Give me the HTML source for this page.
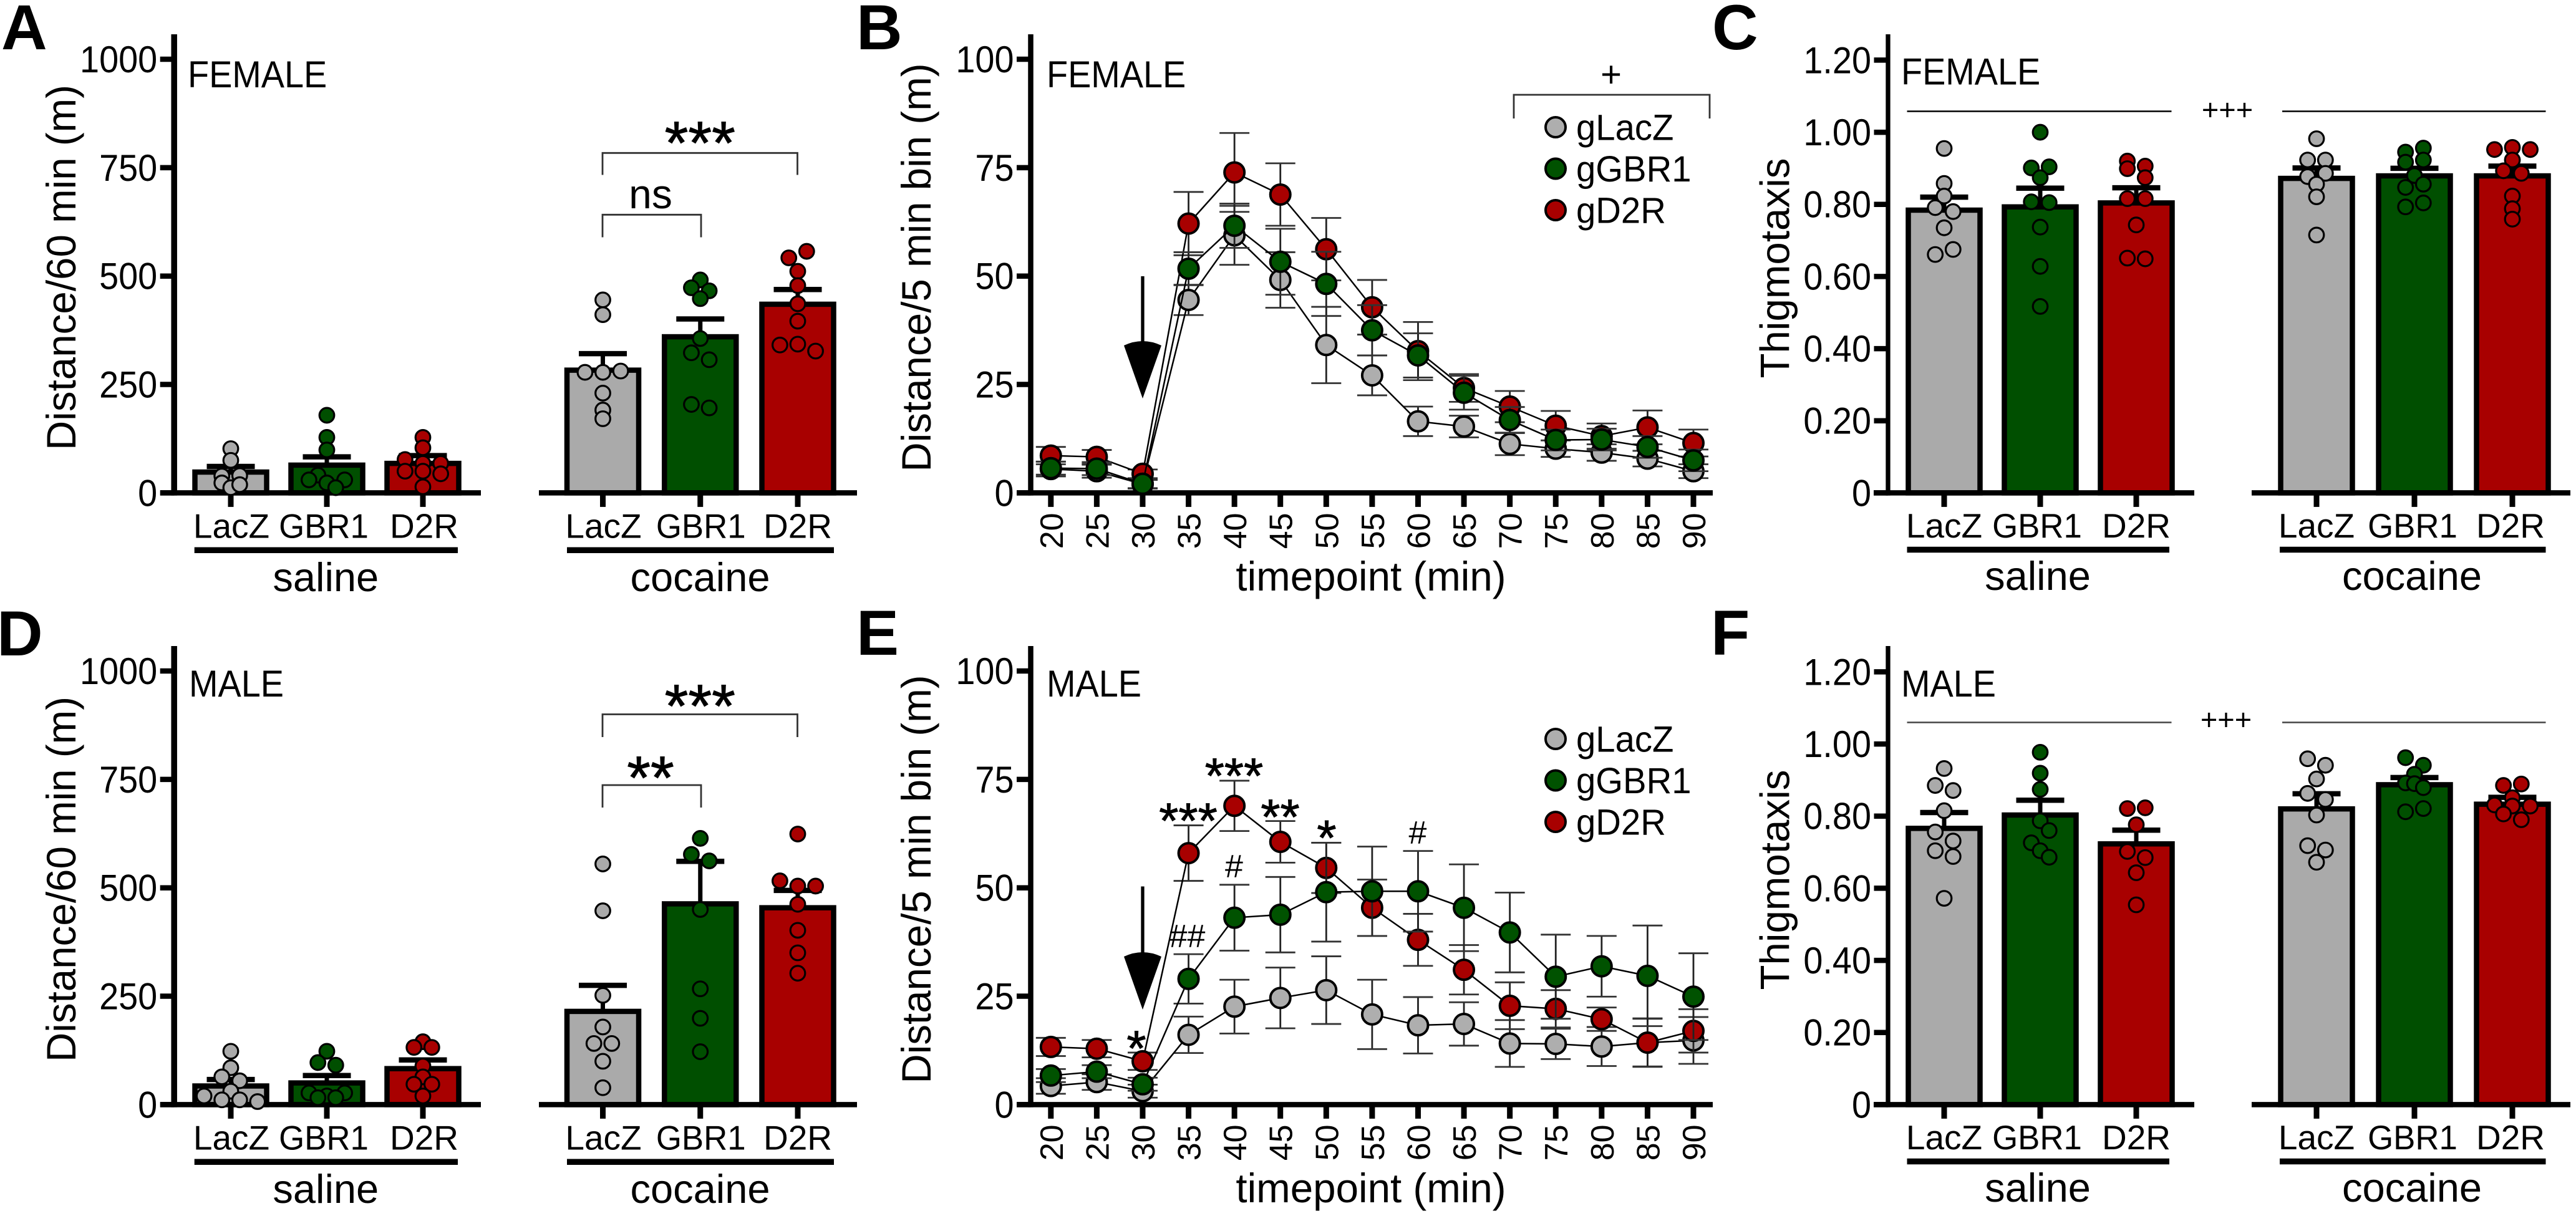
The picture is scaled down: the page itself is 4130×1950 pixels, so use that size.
<!DOCTYPE html>
<html lang="en">
<head>
<meta charset="utf-8">
<title>Locomotion and thigmotaxis by sex, treatment and knockdown group</title>
<style>
html,body{margin:0;padding:0;background:#fff;}
svg{display:block;}
text{font-family:"Liberation Sans",Arial,sans-serif;fill:#000;}
</style>
</head>
<body>
<svg id="figure" xmlns="http://www.w3.org/2000/svg" width="4130" height="1950" viewBox="0 0 4130 1950">
  <rect width="4130" height="1950" fill="#fff"/>
  <g id="panel-a"></g>
  <g id="panel-b"></g>
  <g id="panel-c"></g>
  <g id="panel-d"></g>
  <g id="panel-e"></g>
  <g id="panel-f"></g>
</svg>
<script>
// ---------- shared categories and ticks ----------
const genotypeLabels = ['LacZ', 'GBR1', 'D2R'];
const treatmentLabels = ['saline', 'cocaine'];
const seriesLabels = ['gLacZ', 'gGBR1', 'gD2R'];
const distanceTicks = [0, 250, 500, 750, 1000];
const binTicks = [0, 25, 50, 75, 100];
const thigmoTicks = [0, 0.2, 0.4, 0.6, 0.8, 1.0, 1.2];
const thigmoTickLabels = ['0', '0.20', '0.40', '0.60', '0.80', '1.00', '1.20'];
const timepoints = [20, 25, 30, 35, 40, 45, 50, 55, 60, 65, 70, 75, 80, 85, 90];

// ---------- panel A ----------
const aMeans = [48, 64, 68, 283, 360, 435];
const aErrTops = [61, 83, 86, 321, 401, 469];
const aPoints = [
  [102, 75, 39, 40, 23, 12, 19],
  [179, 128, 99, 41, 30, 30, 23, 12],
  [128, 104, 77, 68, 68, 50, 50, 44, 14],
  [445, 411, 278, 278, 281, 230, 191, 171],
  [491, 473, 466, 448, 356, 323, 307, 204, 196],
  [557, 542, 511, 478, 436, 396, 341, 343, 327]
];
const aJitter = [
  [0, 0, -1, 1, -1, 0, 1],
  [0, 0, 0, -1, -2, 2, 0, 1],
  [0, 0, -2, 2, 0, -2, 0, 2, 0],
  [0, 0, -2, 0, 2, 0, 0, 0],
  [0, -1, 1, 0, 0, -1, 1, -1, 1],
  [1, -1, 0, 0, 0, 0, -2, 0, 2]
];

// ---------- panel B ----------
const bLacZ = [5.5, 5, 2, 44.5, 59.4, 49.1, 34.1, 27.1, 16.5, 15.3, 11.3, 10.2, 9.3, 7.9, 5];
const bGBR1 = [5.7, 5.6, 2.1, 51.7, 61.6, 53.3, 48.2, 37.5, 31.7, 23.1, 16.8, 12.2, 12.3, 10.6, 7.5];
const bD2R = [8.6, 8.3, 4.4, 62.1, 73.9, 68.8, 56.2, 42.8, 32.7, 24.2, 19.9, 15.5, 13.1, 15.1, 11.5];
const bLacZSem = [1.7, 1.5, 1, 3.5, 6.8, 6.4, 8.8, 4.6, 3.4, 2.5, 2.6, 1.9, 1.9, 1.8, 1.6];
const bGBR1Sem = [1.5, 1.5, 1, 3.8, 5.1, 7.6, 7.4, 5.8, 5.1, 3.9, 3, 2.4, 2.5, 2.5, 2.5];
const bD2RSem = [2, 1.6, 1, 7.3, 9.1, 7.2, 7.2, 6.3, 6.7, 3.2, 3.6, 3.4, 2.9, 3.9, 3.1];

// ---------- panel C ----------
const cMeans = [0.784, 0.793, 0.804, 0.872, 0.879, 0.879];
const cErrTops = [0.82, 0.845, 0.846, 0.901, 0.9, 0.906];
const cPoints = [
  [0.955, 0.858, 0.823, 0.791, 0.78, 0.735, 0.675, 0.661],
  [1.0, 0.901, 0.904, 0.874, 0.807, 0.805, 0.737, 0.628, 0.517],
  [0.92, 0.899, 0.906, 0.874, 0.816, 0.816, 0.743, 0.651, 0.649],
  [0.982, 0.923, 0.923, 0.877, 0.886, 0.856, 0.821, 0.715],
  [0.956, 0.945, 0.917, 0.923, 0.88, 0.847, 0.856, 0.804, 0.793],
  [0.952, 0.958, 0.952, 0.923, 0.893, 0.886, 0.823, 0.788, 0.759]
];
const cJitter = [
  [0, 0, 0, -1, 1, 0, 1, -1],
  [0, -1, 1, 0, -1, 1, 0, 0, 0],
  [-1, -1, 1, 1, -1, 1, 0, -1, 1],
  [0, -1, 1, -1, 1, 0, 0, 0],
  [1, -1, -1, 1, 0, -1, 1, 1, -1],
  [-2, 0, 2, 0, -1, 1, 0, 0, 0]
];

// ---------- panel D ----------
const dMeans = [43, 50, 83, 215, 463, 454];
const dErrTops = [58, 67, 103, 275, 561, 494];
const dPoints = [
  [123, 85, 64, 55, 31, 20, 11, 11, 7],
  [123, 97, 91, 27, 27, 20, 16, 16],
  [145, 132, 132, 89, 64, 47, 47, 20],
  [555, 447, 252, 179, 141, 141, 100, 39],
  [614, 577, 562, 450, 267, 199, 122],
  [624, 516, 504, 504, 462, 402, 350, 303]
];
const dJitter = [
  [0, 0, -1, 1, 0, -3, -1, 1, 3],
  [0, -1, 1, -2, 2, 0, -1, 1],
  [0, -1, 1, 0, 0, -1, 1, 0],
  [0, 0, 0, 0, -1, 1, 0, 0],
  [0, -1, 1, 0, 0, 0, 0],
  [0, -2, 0, 2, 0, 0, 0, 0]
];

// ---------- panel E ----------
const eLacZ = [4.3, 5.2, 3.1, 16.1, 22.6, 24.6, 26.4, 20.8, 18.3, 18.6, 14.1, 14, 13.4, 14.3, 14.8];
const eGBR1 = [6.7, 7.6, 4.7, 29, 43.1, 43.8, 49, 49.2, 49.2, 45.4, 39.7, 29.5, 31.9, 29.7, 24.9];
const eD2R = [13.3, 12.9, 10, 58, 68.9, 60.6, 54.6, 45.4, 38, 31.1, 22.8, 22.1, 19.7, 14.3, 17];
const eLacZSem = [1.8, 1.8, 1.5, 4.2, 6.2, 7, 7.8, 8, 6.5, 5, 5.4, 3.5, 4.5, 5.5, 5.4];
const eGBR1Sem = [1.5, 1.5, 1.5, 5.7, 7.6, 8.7, 11.4, 10.3, 9.3, 10, 9.2, 9.7, 7, 11.6, 10];
const eD2RSem = [2.1, 2, 2, 6.4, 5.8, 4.8, 5.8, 6.5, 6, 5.7, 5.4, 4.3, 2.7, 5.6, 5];

// ---------- panel F ----------
const fMeans = [0.766, 0.803, 0.723, 0.82, 0.887, 0.833];
const fErrTops = [0.81, 0.844, 0.761, 0.862, 0.907, 0.852];
const fPoints = [
  [0.932, 0.885, 0.871, 0.815, 0.756, 0.731, 0.704, 0.688, 0.572],
  [0.977, 0.919, 0.874, 0.787, 0.76, 0.726, 0.704, 0.686],
  [0.821, 0.823, 0.776, 0.702, 0.685, 0.643, 0.554],
  [0.959, 0.941, 0.903, 0.863, 0.846, 0.803, 0.718, 0.706, 0.672],
  [0.962, 0.941, 0.916, 0.892, 0.89, 0.879, 0.821, 0.812],
  [0.885, 0.889, 0.851, 0.831, 0.828, 0.828, 0.806, 0.79]
];
const fJitter = [
  [0, -1, 1, 0, -1, 1, -1, 1, 0],
  [0, 0, 0, 0, 1, -1, 0, 1],
  [-1, 1, 0, -1, 1, 0, 0],
  [-1, 1, 0, -1, 1, 0, -1, 1, 0],
  [-1, 1, 0, -1, 0, 1, 1, -1],
  [-1, 1, 0, -2, 0, 2, -1, 1]
];

// ---------- drawing helpers ----------
const NS = 'http://www.w3.org/2000/svg';
const COLORS = ['#aaaaaa', '#004f00', '#a80000'];
const SERIES_COLORS = ['#aeaeae', '#005200', '#a80000'];

function addEl(parent, tag, attrs) {
  const el = document.createElementNS(NS, tag);
  for (const k in attrs) el.setAttribute(k, attrs[k]);
  parent.appendChild(el);
  return el;
}
function addLine(parent, x1, y1, x2, y2, width, color) {
  return addEl(parent, 'line', { x1: x1, y1: y1, x2: x2, y2: y2, stroke: color || '#000', 'stroke-width': width });
}
function addText(parent, str, x, y, size, anchor, rotate, weight) {
  const attrs = { x: x, y: y, 'font-size': size, 'text-anchor': anchor || 'middle' };
  if (rotate) attrs.transform = 'rotate(' + rotate + ' ' + x + ' ' + y + ')';
  if (weight) attrs['font-weight'] = weight;
  const el = addEl(parent, 'text', attrs);
  el.textContent = str;
  return el;
}
function condense(el, factor) {
  el.setAttribute('textLength', el.getComputedTextLength() * factor);
  el.setAttribute('lengthAdjust', 'spacingAndGlyphs');
}
function linearScale(domainMax, y0, yMax) {
  return function (v) { return y0 - (v / domainMax) * (y0 - yMax); };
}

function drawYAxis(g, cfg, y, ticks, labels, title, titleSize) {
  const axis = addLine(g, cfg.axisX, cfg.axisTop, cfg.axisX, cfg.y0 + cfg.axisThick / 2, cfg.axisWidth);
  
  
  ticks.forEach(function (t, i) {
    const mark = addLine(g, cfg.axisX - 22.5, y(t), cfg.axisX, y(t), 8.5);
    
    
    const lab = addText(g, labels[i], cfg.axisX - 27, y(t) + 21, 60, 'end');
    condense(lab, 0.93);
    
    
  });
  const yt = addText(g, title, cfg.titleX, cfg.titleY, titleSize || 65.5, 'middle', -90);
  
  
}

function drawPanelLetter(g, letter, x, y) {
  const t = addText(g, letter, x, y, 102, 'start', 0, 'bold');
  
  
}

function drawSexLabel(g, str, x, y) {
  const t = addText(g, str, x, y, 60, 'start');
  condense(t, 0.93);
  
  
}

function drawBracket(g, x1, x2, yTop, yBottom) {
  const p = addEl(g, 'path', {
    d: 'M' + x1 + ' ' + yBottom + 'V' + yTop + 'H' + x2 + 'V' + yBottom,
    fill: 'none', stroke: '#333', 'stroke-width': 2.8
  });
  
  
}

function drawStars(g, str, cx, cy, size) {
  const t = addText(g, str, cx, cy + 0.58 * size, size, 'middle');
  t.setAttribute('stroke', '#000');
  t.setAttribute('stroke-width', '1');
  
  
}

function drawBarPanel(g, cfg, ticks, labels, title, means, errTops, points, jitter) {
  const y = linearScale(cfg.domainMax, cfg.y0, cfg.yMax);
  drawYAxis(g, cfg, y, ticks, labels, title);
  const centers = [0, 1, 2].map(function (i) { return cfg.salFirst + i * (cfg.salLast - cfg.salFirst) / 2; })
    .concat([0, 1, 2].map(function (i) { return cfg.cocFirst + i * (cfg.cocLast - cfg.cocFirst) / 2; }));

  means.forEach(function (m, i) {
    const cx = centers[i];
    const top = y(m);
    const bar = addEl(g, 'rect', {
      x: cx - cfg.barW / 2, y: top, width: cfg.barW, height: cfg.y0 - top,
      fill: COLORS[i % 3], stroke: '#000', 'stroke-width': 8.5
    });
    
    

    const stem = addLine(g, cx, top, cx, y(errTops[i]), 7);
    
    
    const cap = addLine(g, cx - 38.5, y(errTops[i]), cx + 38.5, y(errTops[i]), 8.5);
    
    

    const tk = addLine(g, cx, cfg.y0, cx, cfg.y0 + 22.5, 9);
    
    

    const off = cfg.labelOffset ? cfg.labelOffset[i] : 0;
    const lab = addText(g, genotypeLabels[i % 3], cx + off, cfg.labelY, 55);
    if (i % 3 === 1) condense(lab, 0.96);
    
    
  });

  cfg.segments.forEach(function (seg) {
    const xa = addLine(g, seg[0], cfg.y0, seg[1], cfg.y0, cfg.axisThick);
    
    
  });

  means.forEach(function (m, i) {
    points[i].forEach(function (v, j) {
      const dot = addEl(g, 'circle', {
        cx: centers[i] + jitter[i][j] * 14.3, cy: y(v), r: 11.8,
        fill: COLORS[i % 3], stroke: '#000', 'stroke-width': 3.2
      });
      
      
    });
  });

  treatmentLabels.forEach(function (name, k) {
    const u = cfg.underlines[k];
    const ul = addLine(g, u[0], cfg.underlineY, u[1], cfg.underlineY, 9.5);
    
    
    const tl = addText(g, name, cfg.treatX[k], cfg.treatY, 65);
    
    
  });
}

function drawSeries(g, x, y, values, sem, colorIndex) {
  values.forEach(function (v, i) {
    const cx = x(timepoints[i]);
    const stem = addLine(g, cx, y(v - sem[i]), cx, y(v + sem[i]), 2.8, '#222');
    
    
    const capU = addLine(g, cx - 24, y(v + sem[i]), cx + 24, y(v + sem[i]), 2.8, '#333');
    
    
    const capL = addLine(g, cx - 24, y(v - sem[i]), cx + 24, y(v - sem[i]), 2.8, '#333');
    
    
  });
  const path = addEl(g, 'polyline', {
    points: values.map(function (v, i) { return x(timepoints[i]) + ',' + y(v); }).join(' '),
    fill: 'none', stroke: '#000', 'stroke-width': 2.5
  });
  
  
  values.forEach(function (v, i) {
    const m = addEl(g, 'circle', {
      cx: x(timepoints[i]), cy: y(v), r: 16,
      fill: SERIES_COLORS[colorIndex], stroke: '#000', 'stroke-width': 4
    });
    
    
  });
}

function drawLinePanel(g, cfg, lacz, gbr, d2r, laczSem, gbrSem, d2rSem) {
  const y = linearScale(100, cfg.y0, cfg.yMax);
  const x = function (t) { return cfg.x20 + (t - 20) * (cfg.x90 - cfg.x20) / 70; };
  drawYAxis(g, cfg, y, binTicks, binTicks.map(String), 'Distance/5 min bin (m)');

  timepoints.forEach(function (t) {
    const tk = addLine(g, x(t), cfg.y0, x(t), cfg.y0 + 22.5, 9);
    
    
    const lab = addText(g, String(t), x(t) + 19, cfg.y0 + 32, 52, 'end', -90);
    
    
  });
  const xa = addLine(g, cfg.axisX - 22, cfg.y0, cfg.xEnd, cfg.y0, cfg.axisThick);
  
  
  const xt = addText(g, 'timepoint (min)', 2198, cfg.xTitleY, 65.5);
  
  

  drawSeries(g, x, y, lacz, laczSem, 0);
  drawSeries(g, x, y, d2r, d2rSem, 2);
  drawSeries(g, x, y, gbr, gbrSem, 1);

  const shaft = addLine(g, x(30), cfg.arrowTop, x(30), cfg.arrowHead + 2, 5.3);
  
  
  const head = addEl(g, 'path', {
    d: 'M' + (x(30) - 30) + ' ' + (cfg.arrowHead + 4) + 'Q' + x(30) + ' ' + (cfg.arrowHead - 10) + ' ' + (x(30) + 30) + ' ' + (cfg.arrowHead + 4) + 'L' + x(30) + ' ' + cfg.arrowTip + 'Z',
    fill: '#000'
  });
  
  

  seriesLabels.forEach(function (name, i) {
    const my = cfg.legendY + i * 66.5;
    const lm = addEl(g, 'circle', { cx: 2494, cy: my, r: 16, fill: SERIES_COLORS[i], stroke: '#000', 'stroke-width': 4 });
    
    
    const lt = addText(g, name, 2527, my + 20.5, 58, 'start');
    condense(lt, 0.97);
    
    
  });
}

// ---------- layouts ----------
const DY = 981;
function distanceLayout(dy) {
  return {
    domainMax: 1000, y0: 790.4 + dy, yMax: 95 + dy, axisX: 279.2, axisTop: 55 + dy, axisWidth: 9.5, axisThick: 8.5,
    titleX: 121, titleY: 429 + dy, salFirst: 370, salLast: 678, cocFirst: 966.5, cocLast: 1279,
    barW: 115, segments: [[257, 771], [864, 1374]], labelY: 862.5 + dy,
    labelOffset: [1, -5, 2, 1, 1, 0],
    underlineY: 882.3 + dy, underlines: [[311.7, 734], [909, 1337]], treatX: [522.3, 1122.5], treatY: 948 + dy
  };
}
function thigmoLayout(dy) {
  return {
    domainMax: 1.2, y0: 790.4 + dy, yMax: 96.4 + dy, axisX: 3027, axisTop: 55 + dy, axisWidth: 7.3, axisThick: 8.5,
    titleX: 2868.5, titleY: 430 + dy, salFirst: 3117, salLast: 3425, cocFirst: 3714, cocLast: 4028,
    barW: 115, segments: [[3004, 3518], [3610, 4121]], labelY: 862 + dy,
    labelOffset: [0, -5, 0, 0, -3, -3],
    underlineY: 881.5 + dy, underlines: [[3057.5, 3478], [3655, 4081.5]], treatX: [3267, 3867], treatY: 946 + dy
  };
}
function timeLayout(dy) {
  return {
    y0: 790.4 + dy, yMax: 95 + dy, axisX: 1652.5, axisTop: 55 + dy, axisWidth: 8.5, axisThick: 8.5,
    titleX: 1492, titleY: 429 + dy, x20: 1684.8, x90: 2715, xEnd: 2746, xTitleY: 947 + dy
  };
}

// ---------- panel A ----------
const gA = document.getElementById('panel-a');
drawPanelLetter(gA, 'A', 2, 79);
drawBarPanel(gA, distanceLayout(0), distanceTicks, distanceTicks.map(String), 'Distance/60 min (m)', aMeans, aErrTops, aPoints, aJitter);
drawSexLabel(gA, 'FEMALE', 301, 140);
drawBracket(gA, 966, 1278.5, 245.3, 280.5);
drawBracket(gA, 966, 1124, 344.3, 380.5);
drawStars(gA, '***', 1122.3, 206, 97);
const nsA = addText(gA, 'ns', 1043, 334, 66);



// ---------- panel B ----------
const gB = document.getElementById('panel-b');
drawPanelLetter(gB, 'B', 1373, 79);
const cfgB = Object.assign(timeLayout(0), { arrowTop: 443, arrowHead: 550, arrowTip: 639, legendY: 204 });
drawLinePanel(gB, cfgB, bLacZ, bGBR1, bD2R, bLacZSem, bGBR1Sem, bD2RSem);
drawSexLabel(gB, 'FEMALE', 1678, 140);
drawBracket(gB, 2427, 2741, 152, 190);
const plusB = addText(gB, '+', 2583, 139, 58);



// ---------- panel C ----------
const gC = document.getElementById('panel-c');
drawPanelLetter(gC, 'C', 2745, 79);
drawBarPanel(gC, thigmoLayout(0), thigmoTicks, thigmoTickLabels, 'Thigmotaxis', cMeans, cErrTops, cPoints, cJitter);
drawSexLabel(gC, 'FEMALE', 3048, 135.5);
const lineC1 = addLine(gC, 3057.5, 178.5, 3481.5, 178.5, 2.6);


const lineC2 = addLine(gC, 3659, 178.5, 4081.5, 178.5, 2.6);


const plusC = addText(gC, '+++', 3571, 192, 47);



// ---------- panel D ----------
const gD = document.getElementById('panel-d');
drawPanelLetter(gD, 'D', -5, 1051);
drawBarPanel(gD, distanceLayout(DY), distanceTicks, distanceTicks.map(String), 'Distance/60 min (m)', dMeans, dErrTops, dPoints, dJitter);
drawSexLabel(gD, 'MALE', 303, 1117);
drawBracket(gD, 966, 1278.5, 1145.5, 1182);
drawBracket(gD, 966, 1124, 1259, 1295);
drawStars(gD, '***', 1122.3, 1109, 97);
drawStars(gD, '**', 1043, 1224, 97);

// ---------- panel E ----------
const gE = document.getElementById('panel-e');
drawPanelLetter(gE, 'E', 1373, 1050);
const cfgE = Object.assign(timeLayout(DY), { arrowTop: 1421.5, arrowHead: 1530, arrowTip: 1619, legendY: 1185 });
drawLinePanel(gE, cfgE, eLacZ, eGBR1, eD2R, eLacZSem, eGBR1Sem, eD2RSem);
drawSexLabel(gE, 'MALE', 1678, 1117);
drawStars(gE, '***', 1978.5, 1225, 80);
drawStars(gE, '***', 1905, 1297, 80);
drawStars(gE, '**', 2052.5, 1291, 80);
drawStars(gE, '*', 2127, 1324.5, 80);
drawStars(gE, '*', 1822, 1662, 80);
const hash1 = addText(gE, '#', 2273, 1353, 52);


const hash2 = addText(gE, '#', 1978.5, 1407, 52);


const hash3 = addText(gE, '##', 1903.5, 1519, 52);



// ---------- panel F ----------
const gF = document.getElementById('panel-f');
drawPanelLetter(gF, 'F', 2743, 1050);
drawBarPanel(gF, thigmoLayout(DY), thigmoTicks, thigmoTickLabels, 'Thigmotaxis', fMeans, fErrTops, fPoints, fJitter);
drawSexLabel(gF, 'MALE', 3048, 1117);
const lineF1 = addLine(gF, 3057.5, 1158.5, 3481.5, 1158.5, 2.6, '#444');


const lineF2 = addLine(gF, 3659, 1158.5, 4081.5, 1158.5, 2.6, '#444');


const plusF = addText(gF, '+++', 3569, 1170, 47);


</script>
</body>
</html>
